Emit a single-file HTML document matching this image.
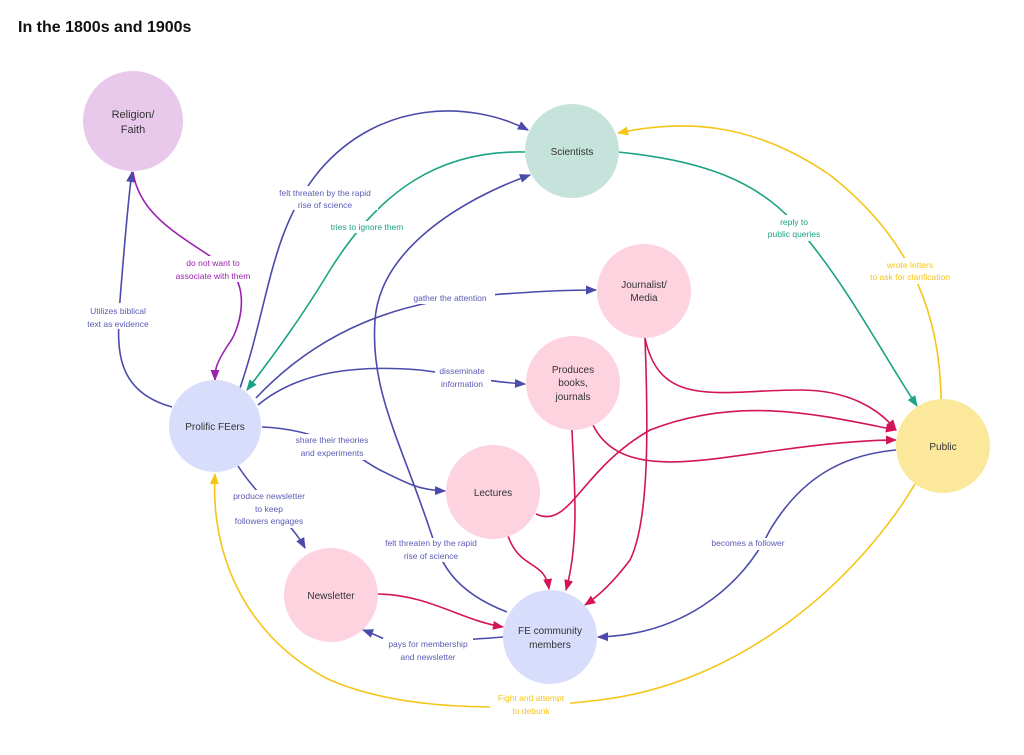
<!DOCTYPE html>
<html><head><meta charset="utf-8"><style>
body{margin:0;background:#fff}
svg{display:block;font-family:"Liberation Sans",sans-serif}
.n{font-size:10px;fill:#333;text-anchor:middle}
.l{font-size:8.5px;text-anchor:middle}
</style></head><body>
<svg width="1024" height="755" viewBox="0 0 1024 755">
<defs>
<marker id="ab" viewBox="0 0 10 10" refX="9" refY="5" markerWidth="7" markerHeight="7" orient="auto"><path d="M0,1L10,5L0,9z" fill="#4b4bab"/></marker>
<marker id="am" viewBox="0 0 10 10" refX="9" refY="5" markerWidth="7" markerHeight="7" orient="auto"><path d="M0,1L10,5L0,9z" fill="#d4145a"/></marker>
<marker id="ag" viewBox="0 0 10 10" refX="9" refY="5" markerWidth="7" markerHeight="7" orient="auto"><path d="M0,1L10,5L0,9z" fill="#1aa384"/></marker>
<marker id="ay" viewBox="0 0 10 10" refX="9" refY="5" markerWidth="7" markerHeight="7" orient="auto"><path d="M0,1L10,5L0,9z" fill="#f5c518"/></marker>
<marker id="ap" viewBox="0 0 10 10" refX="9" refY="5" markerWidth="7" markerHeight="7" orient="auto"><path d="M0,1L10,5L0,9z" fill="#9b1fb0"/></marker>
</defs>
<text x="18" y="32" font-size="16" font-weight="bold" fill="#111">In the 1800s and 1900s</text>
<g fill="none" stroke-width="1.6">
<!-- blue -->
<path d="M172,407 C110,390 118,340 120,300 C124,250 128,200 132,172" stroke="#4b4bab" marker-end="url(#ab)"/>
<path d="M240,388 C270,300 270,230 320,170 C380,100 470,100 528,130" stroke="#4b4bab" marker-end="url(#ab)"/>
<path d="M256,398 C320,330 400,300 490,295 C530,292 560,290 596,290" stroke="#4b4bab" marker-end="url(#ab)"/>
<path d="M258,405 C300,370 360,365 420,370 C460,375 490,382 525,384" stroke="#4b4bab" marker-end="url(#ab)"/>
<path d="M262,427 C330,430 360,460 380,470 C410,485 420,490 445,491" stroke="#4b4bab" marker-end="url(#ab)"/>
<path d="M238,466 C260,500 290,520 305,548" stroke="#4b4bab" marker-end="url(#ab)"/>
<path d="M507,612 C450,590 440,560 430,530 C400,440 370,390 375,320 C380,250 460,200 530,175" stroke="#4b4bab" marker-end="url(#ab)"/>
<path d="M503,637 C470,640 440,640 420,645 C400,650 390,640 363,630" stroke="#4b4bab" marker-end="url(#ab)"/>
<path d="M896,450 C840,455 800,480 770,530 C740,590 680,635 598,637" stroke="#4b4bab" marker-end="url(#ab)"/>
<!-- green -->
<path d="M525,152 C440,150 380,190 330,270 C300,320 270,360 247,390" stroke="#1aa384" marker-end="url(#ag)"/>
<path d="M618,152 C700,160 760,180 800,230 C850,290 880,350 917,406" stroke="#1aa384" marker-end="url(#ag)"/>
<!-- purple -->
<path d="M133,172 C140,220 190,240 230,270 C250,290 240,330 228,345 C215,365 215,370 215,380" stroke="#9b1fb0" marker-end="url(#ap)"/>
<!-- yellow -->
<path d="M941,399 C940,300 900,230 830,175 C750,120 680,120 618,133" stroke="#f5c518" marker-end="url(#ay)"/>
<path d="M915,484 C870,560 760,680 600,700 C500,712 400,710 330,680 C250,640 210,560 215,474" stroke="#f5c518" marker-end="url(#ay)"/>
<!-- magenta -->
<path d="M645,338 C660,410 720,390 800,390 C850,390 880,410 896,430" stroke="#d4145a" marker-end="url(#am)"/>
<path d="M593,425 C620,480 700,460 780,450 C830,443 870,440 896,440" stroke="#d4145a" marker-end="url(#am)"/>
<path d="M536,514 C570,530 580,470 650,430 C740,395 820,415 896,430" stroke="#d4145a" marker-end="url(#am)"/>
<path d="M645,338 C648,420 650,520 630,560 C615,580 600,595 585,605" stroke="#d4145a" marker-end="url(#am)"/>
<path d="M572,430 C574,480 580,540 566,590" stroke="#d4145a" marker-end="url(#am)"/>
<path d="M508,536 C520,570 545,560 549,589" stroke="#d4145a" marker-end="url(#am)"/>
<path d="M378,594 C430,595 460,620 503,627" stroke="#d4145a" marker-end="url(#am)"/>
</g>
<g>
<circle cx="133" cy="121" r="50" fill="#e8c9ec"/>
<circle cx="572" cy="151" r="47" fill="#c5e3da"/>
<circle cx="644" cy="291" r="47" fill="#fdd3e0"/>
<circle cx="573" cy="383" r="47" fill="#fdd3e0"/>
<circle cx="215" cy="426" r="46" fill="#d8ddfc"/>
<circle cx="943" cy="446" r="47" fill="#fce89a"/>
<circle cx="493" cy="492" r="47" fill="#fdd3e0"/>
<circle cx="331" cy="595" r="47" fill="#fdd3e0"/>
<circle cx="550" cy="637" r="47" fill="#d8ddfc"/>
</g>
<g class="n">
<text x="133" y="118" font-size="11">Religion/</text><text x="133" y="133" font-size="11">Faith</text>
<text x="572" y="155">Scientists</text>
<text x="644" y="288">Journalist/</text><text x="644" y="301">Media</text>
<text x="573" y="373">Produces</text><text x="573" y="386">books,</text><text x="573" y="400">journals</text>
<text x="215" y="430">Prolific FEers</text>
<text x="943" y="450">Public</text>
<text x="493" y="496">Lectures</text>
<text x="331" y="599">Newsletter</text>
<text x="550" y="634">FE community</text><text x="550" y="648">members</text>
</g>
<g class="l" fill="#5b5bb5">
<rect x="85" y="303" width="70" height="26" fill="#fff"/>
<text x="118" y="314">Utilizes biblical</text><text x="118" y="327">text as evidence</text>
<rect x="272" y="186" width="106" height="24" fill="#fff"/>
<text x="325" y="196">felt threaten by the rapid</text><text x="325" y="208">rise of science</text>
<rect x="405" y="292" width="90" height="12" fill="#fff"/>
<text x="450" y="301">gather the attention</text>
<rect x="435" y="365" width="56" height="26" fill="#fff"/>
<text x="462" y="374">disseminate</text><text x="462" y="387">information</text>
<rect x="290" y="434" width="80" height="26" fill="#fff"/>
<text x="332" y="443">share their theories</text><text x="332" y="456">and experiments</text>
<rect x="228" y="490" width="82" height="38" fill="#fff"/>
<text x="269" y="499">produce newsletter</text><text x="269" y="512">to keep</text><text x="269" y="524">followers engages</text>
<rect x="378" y="538" width="106" height="24" fill="#fff"/>
<text x="431" y="546">felt threaten by the rapid</text><text x="431" y="559">rise of science</text>
<rect x="383" y="638" width="90" height="26" fill="#fff"/>
<text x="428" y="647">pays for membership</text><text x="428" y="660">and newsletter</text>
<rect x="706" y="538" width="84" height="12" fill="#fff"/>
<text x="748" y="546">becomes a follower</text>
</g>
<g class="l">
<rect x="325" y="221" width="84" height="12" fill="#fff"/>
<text x="367" y="230" fill="#1aa384">tries to ignore them</text>
<rect x="762" y="215" width="64" height="26" fill="#fff"/>
<text x="794" y="225" fill="#1aa384">reply to</text><text x="794" y="237" fill="#1aa384">public queries</text>
<rect x="168" y="256" width="90" height="26" fill="#fff"/>
<text x="213" y="266" fill="#9b1fb0">do not want to</text><text x="213" y="279" fill="#9b1fb0">associate with them</text>
<rect x="862" y="258" width="96" height="26" fill="#fff"/>
<text x="910" y="268" fill="#f5c518">wrote letters</text><text x="910" y="280" fill="#f5c518">to ask for clarification</text>
<rect x="490" y="690" width="80" height="26" fill="#fff"/>
<text x="531" y="701" fill="#f5c518">Fight and attempt</text><text x="531" y="714" fill="#f5c518">to debunk</text>
</g>
</svg>
</body></html>
